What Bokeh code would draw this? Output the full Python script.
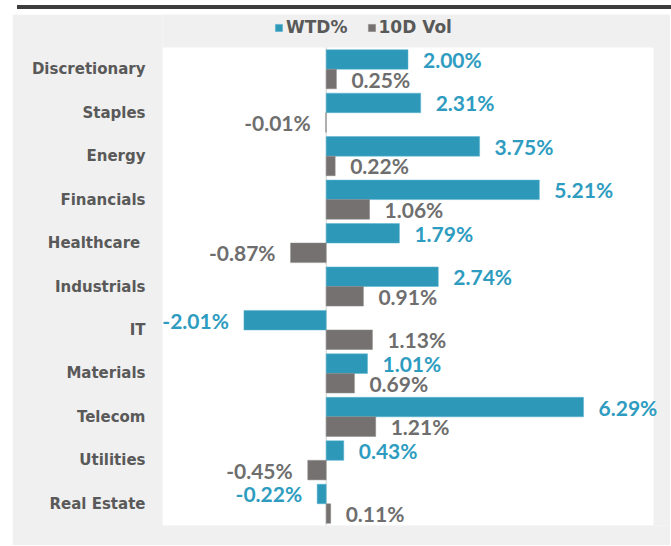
from bokeh.plotting import figure
from bokeh.models import (ColumnDataSource, Range1d, Legend, LegendItem, Div, Spacer,
                          BoxAnnotation, FixedTicker)
from bokeh.layouts import column, row
from bokeh.embed import file_html
from bokeh.resources import INLINE
from bokeh.core.properties import value

sectors = ["Discretionary", "Staples", "Energy", "Financials", "Healthcare ", "Industrials",
           "IT", "Materials", "Telecom", "Utilities", "Real Estate"]
wtd = [2.00, 2.31, 3.75, 5.21, 1.79, 2.74, -2.01, 1.01, 6.29, 0.43, -0.22]
vol = [0.25, -0.01, 0.22, 1.06, -0.87, 0.91, 1.13, 0.69, 1.21, -0.45, 0.11]
series_names = ["WTD%", "10D Vol"]

BLUE = "#2e98b9"
GRAY = "#767171"
BLUE_TXT = "#2e9cc0"
GRAY_TXT = "#6e6e6e"
CAT_TXT = "#595959"
BG = "#f0f0f0"
VAL_FONT = "Lato"
CAT_FONT = "DejaVu Sans"
OFF = 15
BAR_H = 0.45
X_MIN, X_MAX = -4, 8

n = len(sectors)
pos = [n - 0.5 - i for i in range(n)]          # category centres, first at top
src = ColumnDataSource(dict(
    y_top=[y + BAR_H / 2 for y in pos],
    y_bot=[y - BAR_H / 2 for y in pos],
    wtd=wtd,
    vol=vol,
    wtd_lbl=[f"{v:.2f}%" for v in wtd],
    vol_lbl=[f"{v:.2f}%" for v in vol],
    wtd_align=["left" if v >= 0 else "right" for v in wtd],
    vol_align=["left" if v >= 0 else "right" for v in vol],
    wtd_off=[OFF if v >= 0 else -OFF for v in wtd],
    vol_off=[OFF if v >= 0 else -OFF for v in vol],
))

# frame extends over the grey margin on the right and top so labels/legend are not clipped
p = figure(width=658, height=531,
           y_range=Range1d(0, n + 0.76),
           x_range=Range1d(X_MIN, X_MAX + 0.415),
           output_backend="svg", toolbar_location=None,
           min_border_left=150, min_border_right=0,
           min_border_top=0, min_border_bottom=20)

p.border_fill_color = BG
p.background_fill_color = BG
p.outline_line_color = None
p.xgrid.visible = False
p.ygrid.visible = False
p.xaxis.visible = False

# white plot area
p.add_layout(BoxAnnotation(left=X_MIN, right=X_MAX, bottom=0, top=n, fill_color="white",
                           fill_alpha=1, line_color=None, level="underlay"))

ya = p.yaxis[0]
ya.ticker = FixedTicker(ticks=pos)
ya.major_label_overrides = {y: s for y, s in zip(pos, sectors)}
ya.axis_line_color = None
ya.major_tick_line_color = None
ya.minor_tick_line_color = None
ya.major_label_standoff = 11
ya.major_label_text_font = CAT_FONT
ya.major_label_text_font_style = "bold"
ya.major_label_text_font_size = "15px"
ya.major_label_text_color = CAT_TXT

p.segment(x0=[0], x1=[0], y0=[0], y1=[n], line_color="#d0d0d0", line_width=1)

r1 = p.hbar(y="y_top", left=0, right="wtd", height=BAR_H, fill_color=BLUE,
            line_color="#5ab4d0", line_width=0.5, source=src)
r2 = p.hbar(y="y_bot", left=0, right="vol", height=BAR_H, fill_color=GRAY,
            line_color="#8a8686", line_width=0.5, source=src)

p.text(x="wtd", y="y_top", text="wtd_lbl", x_offset="wtd_off", text_align="wtd_align",
       text_baseline="middle", text_font=value(VAL_FONT), text_font_style="bold",
       text_font_size="21px", text_color=BLUE_TXT, source=src)
p.text(x="vol", y="y_bot", text="vol_lbl", x_offset="vol_off", text_align="vol_align",
       text_baseline="middle", text_font=value(VAL_FONT), text_font_style="bold",
       text_font_size="21px", text_color=GRAY_TXT, source=src)

legend = Legend(items=[LegendItem(label=series_names[0], renderers=[r1]),
                       LegendItem(label=series_names[1], renderers=[r2])],
                orientation="horizontal", location=(112, 488),
                glyph_width=9, glyph_height=9, label_standoff=3, spacing=19,
                padding=0, margin=0, border_line_alpha=0, background_fill_alpha=0,
                label_text_font=CAT_FONT, label_text_font_style="bold",
                label_text_font_size="17px", label_text_color=CAT_TXT)
p.add_layout(legend, "center")

bar = Div(width=658, height=4, styles={"background-color": "#3d3d3d"})
layout = row(Spacer(width=12, height=535), column(bar, p))

open("out.html", "w").write(file_html(layout, INLINE))
